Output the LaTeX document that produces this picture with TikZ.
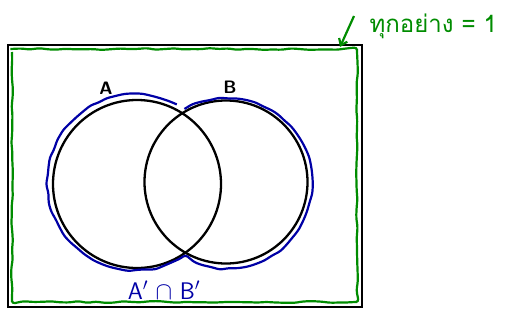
\documentclass[tikz,border=0pt]{standalone}
\usepackage{fontspec}
\newfontfamily\thaifont[Script=Thai]{Loma}
\usetikzlibrary{arrows.meta,positioning,decorations.pathmorphing}

\begin{document}
\begin{tikzpicture}[x=1pt, y=1pt,
    setcirc/.style={circle, draw, line width=2.3pt, inner sep=0pt},
    setlbl/.style={font=\sffamily\bfseries\fontsize{18}{18}\selectfont},
    wobbly/.style={decorate, decoration={random steps, segment length=9pt, amplitude=0.9pt}, rounded corners=3pt},
    inkgreen/.style={draw=green!55!black, line width=2.2pt},
    inkblue/.style={draw=blue!65!black, line width=2.2pt}
]
\pgfmathsetseed{7}
\useasboundingbox (0,0) rectangle (505,-335);

% universe
\node[draw, line width=2pt, minimum width=354pt, minimum height=262pt, inner sep=0pt] (univ) at (185,-176) {};
\draw[inkgreen, wobbly] (12,-49) rectangle (357,-302);

% the two sets
\node[setcirc, minimum size=168pt] (setA) at (137,-184) {};
\node[setcirc, minimum size=163pt] (setB) at (226,-182) {};
\node[setlbl] (lblA) at (106,-88) {A};
\node[setlbl] (lblB) at (230,-87) {B};

% outline of A union B
\draw[inkblue, wobbly] ([shift={(62:89)}]135,-183) arc (62:303:88)
    arc (239:480:85);

% labels
\node[text=blue!65!black, font=\sffamily\fontsize{24}{24}\selectfont] (comp) at (164,-290) {A$'$ $\cap$ B$'$};
\node[text=green!55!black, anchor=west, font=\thaifont\fontsize{24}{24}\selectfont] (whole) at (366,-26) {ทุกอย่าง = 1};
\coordinate (tip) at (340,-47);
\draw[inkgreen, -{Straight Barb[length=6pt, width=9pt]}] (whole.west) ++(-12,10) -- (tip);
\end{tikzpicture}
\end{document}
